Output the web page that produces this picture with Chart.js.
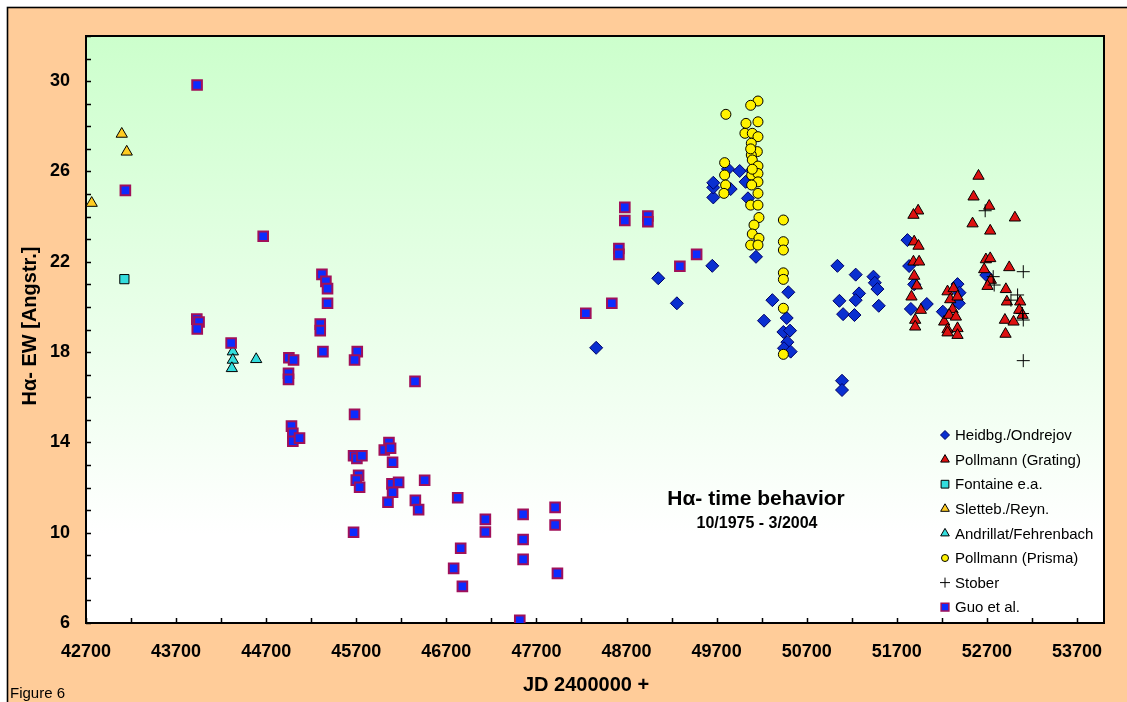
<!DOCTYPE html>
<html>
<head>
<meta charset="utf-8">
<title>H-alpha time behavior</title>
<script src="https://cdn.jsdelivr.net/npm/chart.js@4.4.1/dist/chart.umd.min.js"></script>
<style>
  html, body { margin: 0; padding: 0; background: #fff; }
  canvas { display: block; }
</style>
</head>
<body>
<canvas id="haChart" width="1127" height="702"></canvas>
<script>
// all dates are JD - 2400000, EW in Angstrom
const heidbgJD = [48363, 49052, 49259, 49652, 49663, 49663, 49663, 49826, 49856, 49956, 50022, 50048,
    50089, 50137, 50496, 50319, 50478, 50226, 50441, 50515, 50485, 50448, 50522, 51041, 51063, 51244,
    51441, 51456, 51485, 51281, 51244, 51500, 51104, 51230, 51092, 51092, 51818, 51837, 51893, 51856,
    52033, 52211, 52374, 52396, 52389, 52693];
const heidbgEW = [18.19, 21.27, 20.16, 21.82, 24.85, 25.29, 25.50, 26.11, 25.22, 26.02, 25.54, 24.81,
    26.04, 22.22, 20.65, 20.30, 19.51, 19.39, 18.89, 18.95, 18.44, 18.17, 18.02, 21.82, 20.27, 21.43,
    21.34, 21.07, 20.79, 20.60, 20.30, 20.05, 19.68, 19.64, 16.73, 16.32, 22.96, 21.81, 21.00, 19.91,
    20.13, 19.79, 21.01, 20.63, 20.16, 21.41];

const gratingJD = [52607, 52552, 52726, 52541, 52737, 53011, 51937, 51885, 51893, 51941, 51885, 51948,
    51893, 51922, 51863, 51967, 51904, 51904, 52263, 52330, 52293, 52374, 52319, 52226, 52281, 52356,
    52263, 52263, 52374, 52374, 52689, 52737, 52670, 52744, 52707, 52948, 52911, 52922, 53070, 53059,
    53096, 52900, 52996, 52907];
const gratingEW = [25.80, 24.88, 24.47, 23.69, 23.37, 23.95, 24.26, 24.07, 22.89, 22.70, 22.00, 22.00,
    21.37, 20.94, 20.45, 19.86, 19.42, 19.12, 20.68, 20.82, 20.33, 20.45, 19.89, 19.34, 19.64, 19.56,
    19.00, 18.86, 19.05, 18.75, 22.10, 22.15, 21.66, 21.19, 20.92, 21.75, 20.78, 20.23, 20.23, 19.86,
    19.64, 19.42, 19.34, 18.80];

const fontaineJD = [43126];
const fontaineEW = [21.23];

const slettebJD = [42763, 43097, 43152];
const slettebEW = [24.6, 27.66, 26.87];

const andrillatJD = [44330, 44330, 44319, 44589];
const andrillatEW = [18.02, 17.65, 17.28, 17.68];

const prismaJD = [50159, 50078, 49803, 50026, 50159, 50014, 50096, 50159, 50085, 50152, 50085, 50096,
    50159, 49789, 49789, 50089, 50159, 50159, 50089, 49800, 49781, 50159, 50078, 50159, 50170, 50115,
    50096, 50170, 50078, 50159, 50441, 50441, 50441, 50441, 50441, 50441, 50441, 50078, 50096];
const prismaEW = [29.12, 28.93, 28.53, 28.13, 28.20, 27.69, 27.69, 27.54, 27.25, 26.88, 26.73, 26.51,
    26.24, 26.39, 25.84, 25.84, 25.91, 25.54, 25.40, 25.40, 25.03, 25.03, 24.51, 24.51, 23.96, 23.63,
    23.23, 23.04, 22.74, 22.74, 23.85, 22.89, 22.52, 21.51, 21.22, 19.94, 17.90, 27.00, 26.10];

const stoberJD = [52681, 53104, 52770, 52781, 53041, 52967, 53096, 53104, 53104];
const stoberEW = [24.26, 21.56, 21.34, 20.97, 20.53, 20.30, 19.71, 19.42, 17.62];

const guoJD = [43137, 43933, 43930, 43955, 43935, 44311, 44667, 45319, 45363, 45381, 45381, 45300,
    45300, 45330, 45711, 45681, 44952, 45004, 44948, 44948, 46352, 45681, 44981, 44996, 44996, 45070,
    45670, 45707, 45763, 46063, 46011, 46081, 46103, 45726, 45700, 45737, 46096, 46170, 46103, 46459,
    46052, 46356, 46392, 45670, 46826, 47133, 47133, 47552, 47552, 47552, 47907, 47907, 47933, 46859,
    46781, 46878, 47515, 48681, 48681, 48937, 48937, 48615, 48615, 49478, 49292, 48537, 48248];
const guoEW = [25.16, 29.83, 19.46, 19.33, 19.02, 18.40, 23.13, 21.44, 21.13, 20.81, 20.16, 19.24,
    18.95, 18.02, 18.02, 17.65, 17.75, 17.65, 17.06, 16.79, 16.70, 15.24, 14.72, 14.40, 14.05, 14.19,
    13.41, 13.29, 13.41, 13.99, 13.66, 13.74, 13.12, 12.54, 12.33, 12.01, 12.16, 12.23, 11.79, 12.32,
    11.35, 11.43, 11.02, 10.02, 11.55, 10.59, 10.03, 10.81, 9.70, 8.82, 11.12, 10.34, 8.20, 9.31,
    8.42, 7.62, 6.12, 24.41, 23.83, 24.03, 23.77, 22.59, 22.33, 22.33, 21.80, 20.16, 19.72];

const xMajorTicks = [42700, 43700, 44700, 45700, 46700, 47700, 48700, 49700, 50700, 51700, 52700, 53700];
const xMinorTicks = [43200, 44200, 45200, 46200, 47200, 48200, 49200, 50200, 51200, 52200, 53200];
const yMajorTicks = [6, 10, 14, 18, 22, 26, 30];

const FONT = "'Liberation Sans', Arial, sans-serif";

function toPoints(jd, ew) {
    return jd.map(function(x, i) { return { x: x, y: ew[i] }; });
}

const datasets = [
    { label: 'Heidbg./Ondrejov', data: toPoints(heidbgJD, heidbgEW), pointStyle: 'rectRot',
      pointRadius: 6.5, backgroundColor: '#0a2fd0', borderColor: '#000066', borderWidth: 1, legendRadius: 4.5 },
    { label: 'Pollmann (Grating)', data: toPoints(gratingJD, gratingEW), pointStyle: 'triangle',
      pointRadius: 6.5, backgroundColor: '#dd1111', borderColor: '#000', borderWidth: 1, legendRadius: 5 },
    { label: 'Fontaine e.a.', data: toPoints(fontaineJD, fontaineEW), pointStyle: 'rect',
      pointRadius: 6.5, backgroundColor: '#33dddd', borderColor: '#000', borderWidth: 1, legendRadius: 5.5 },
    { label: 'Sletteb./Reyn.', data: toPoints(slettebJD, slettebEW), pointStyle: 'triangle',
      pointRadius: 6.5, backgroundColor: '#ffcc22', borderColor: '#000', borderWidth: 1, legendRadius: 5 },
    { label: 'Andrillat/Fehrenbach', data: toPoints(andrillatJD, andrillatEW), pointStyle: 'triangle',
      pointRadius: 6.5, backgroundColor: '#33dddd', borderColor: '#000', borderWidth: 1, legendRadius: 5 },
    { label: 'Pollmann (Prisma)', data: toPoints(prismaJD, prismaEW), pointStyle: 'circle',
      pointRadius: 5, backgroundColor: '#fff200', borderColor: '#000', borderWidth: 1, legendRadius: 3.5 },
    { label: 'Stober', data: toPoints(stoberJD, stoberEW), pointStyle: 'cross',
      pointRadius: 6.5, backgroundColor: '#000', borderColor: '#000', borderWidth: 1, legendRadius: 5 },
    { label: 'Guo et al.', data: toPoints(guoJD, guoEW), pointStyle: 'rect',
      pointRadius: 6.8, backgroundColor: '#0b2bff', borderColor: '#a0105a', borderWidth: 2, legendRadius: 5.5 }
];
// later series sit on top, like the original
datasets.forEach(function(ds, i) { ds.order = datasets.length - i; ds.pointHoverRadius = ds.pointRadius; });

const framePlugin = {
    id: 'frame',
    beforeDraw: function(chart) {
        const ctx = chart.ctx;
        const a = chart.chartArea;
        ctx.save();
        ctx.fillStyle = '#ffffff';
        ctx.fillRect(0, 0, chart.width, chart.height);
        ctx.fillStyle = '#ffcc99';
        ctx.fillRect(7, 7, chart.width, chart.height);
        ctx.strokeStyle = '#000';
        ctx.lineWidth = 1.6;
        ctx.strokeRect(7.5, 7.5, chart.width + 10, chart.height + 10);
        const grad = ctx.createLinearGradient(0, a.top, 0, a.bottom);
        grad.addColorStop(0, '#ccffcc');
        grad.addColorStop(0.85, '#ffffff');
        grad.addColorStop(1, '#ffffff');
        ctx.fillStyle = grad;
        ctx.fillRect(a.left, a.top, a.right - a.left, a.bottom - a.top);
        ctx.restore();
    },
    beforeDatasetsDraw: function(chart) {
        const ctx = chart.ctx;
        const a = chart.chartArea;
        const xs = chart.scales.x;
        const ys = chart.scales.y;
        ctx.save();
        ctx.strokeStyle = '#000';
        ctx.lineWidth = 2;
        ctx.strokeRect(a.left, a.top, a.right - a.left, a.bottom - a.top);
        ctx.lineWidth = 1.5;
        ctx.beginPath();
        xs.ticks.forEach(function(t) {
            const px = Math.round(xs.getPixelForValue(t.value)) + 0.5;
            ctx.moveTo(px, a.bottom);
            ctx.lineTo(px, a.bottom - 5);
        });
        ys.ticks.forEach(function(t) {
            const py = Math.round(ys.getPixelForValue(t.value)) + 0.5;
            ctx.moveTo(a.left, py);
            ctx.lineTo(a.left + 5, py);
        });
        ctx.stroke();
        ctx.restore();
    },
    afterDraw: function(chart) {
        const ctx = chart.ctx;
        ctx.save();
        ctx.fillStyle = '#000';
        ctx.textBaseline = 'middle';

        // axis titles
        ctx.textAlign = 'center';
        ctx.font = 'bold 20px ' + FONT;
        ctx.fillText('JD 2400000 +', 586, 685);
        ctx.save();
        ctx.translate(30, 326);
        ctx.rotate(-Math.PI / 2);
        ctx.fillText('H\u03b1- EW [Angstr.]', 0, 0);
        ctx.restore();

        // title inside plot
        ctx.font = 'bold 21px ' + FONT;
        ctx.fillText('H\u03b1- time behavior', 756, 499);
        ctx.font = 'bold 16px ' + FONT;
        ctx.fillText('10/1975 - 3/2004', 757, 524);

        ctx.textAlign = 'left';
        ctx.font = '15px ' + FONT;
        ctx.fillText('Figure 6', 10, 694);

        // legend
        chart.data.datasets.forEach(function(ds, i) {
            const y = 435 + i * 24.6;
            ctx.fillStyle = ds.backgroundColor;
            ctx.strokeStyle = ds.borderColor;
            ctx.lineWidth = ds.pointStyle === 'rect' && ds.borderWidth > 1 ? 1.5 : 1;
            Chart.helpers.drawPoint(ctx, {
                pointStyle: ds.pointStyle, radius: ds.legendRadius, rotation: 0,
                borderWidth: ctx.lineWidth
            }, 945, y);
            ctx.fillStyle = '#000';
            ctx.fillText(ds.label, 955, y + 1);
        });
        ctx.restore();
    }
};

new Chart(document.getElementById('haChart'), {
    type: 'scatter',
    data: { datasets: datasets },
    options: {
        responsive: false,
        animation: false,
        layout: { padding: { top: 36, right: 23, left: 0, bottom: 0 } },
        plugins: {
            legend: { display: false },
            tooltip: { enabled: false }
        },
        scales: {
            x: {
                type: 'linear',
                min: 42700,
                max: 54000,
                afterFit: function(scale) { scale.height = 79; },
                afterBuildTicks: function(scale) {
                    scale.ticks = xMajorTicks.concat(xMinorTicks).sort(function(a, b) { return a - b; })
                        .map(function(v) { return { value: v }; });
                },
                grid: { display: false, drawTicks: false },
                border: { display: false },
                ticks: {
                    autoSkip: false,
                    maxRotation: 0,
                    padding: 18,
                    color: '#000',
                    font: { family: FONT, size: 18, weight: 'bold' },
                    callback: function(v) { return xMajorTicks.includes(v) ? String(v) : ''; }
                }
            },
            y: {
                min: 6,
                max: 32,
                afterFit: function(scale) { scale.width = 86; },
                grid: { display: false, drawTicks: false },
                border: { display: false },
                ticks: {
                    stepSize: 1,
                    autoSkip: false,
                    padding: 16,
                    color: '#000',
                    font: { family: FONT, size: 18, weight: 'bold' },
                    callback: function(v) { return yMajorTicks.includes(v) ? String(v) : ''; }
                }
            }
        }
    },
    plugins: [framePlugin]
});
</script>
</body>
</html>
